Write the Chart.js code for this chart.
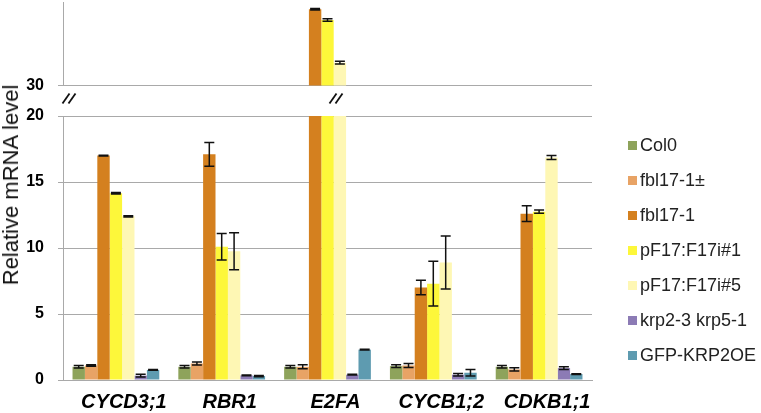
<!DOCTYPE html>
<html>
<head>
<meta charset="utf-8">
<script src="https://cdn.jsdelivr.net/npm/chart.js@4.4.1/dist/chart.umd.min.js"></script>
<style>
  body { margin: 0; background: #fff; overflow: hidden; }
  #wrap { position: relative; width: 761px; height: 413px; overflow: hidden; font-family: "Liberation Sans", Arial, sans-serif; }
  canvas { position: absolute; left: 0; }
  #bottom { top: 0; }
  #top { top: -21px; }
  #ytitle { position: absolute; left: 11px; top: 185px; transform: translate(-50%, -50%) rotate(-90deg);
            font-size: 22px; line-height: 22px; white-space: nowrap; color: #111; }
  #legend { position: absolute; left: 628px; top: 133px; }
  .item { height: 35px; display: flex; align-items: flex-start; font-size: 18px; line-height: 24px; color: #222; }
  .box { width: 9px; height: 9px; margin: 8px 3px 0 0; }
</style>
</head>
<body>
<div id="wrap">
  <canvas id="bottom" width="761" height="413"></canvas>
  <canvas id="top" width="761" height="130"></canvas>
  <div id="ytitle">Relative mRNA level</div>
  <div id="legend"></div>
</div>
<script>
const genes = ["CYCD3;1", "RBR1", "E2FA", "CYCB1;2", "CDKB1;1"];
const seriesNames = ["Col0", "fbl17-1\u00b1", "fbl17-1", "pF17:F17i#1", "pF17:F17i#5", "krp2-3 krp5-1", "GFP-KRP2OE"];
const colors = ["#8ea35b", "#e8a365", "#d4801f", "#fdf73a", "#fef7b4", "#8c7bb5", "#5e9bb0"];

const col0      = [1.0, 1.0, 1.0, 1.05, 1.0];
const col0Err   = [0.1, 0.1, 0.1, 0.1, 0.1];
const fblHet    = [1.1, 1.25, 1.0, 1.1, 0.8];
const fblHetErr = [0.05, 0.12, 0.15, 0.15, 0.12];
const fbl       = [17.0, 17.1, 35.7, 7.0, 12.6];
const fblErr    = [0.03, 0.9, 0.05, 0.55, 0.6];
const f17i1     = [14.15, 10.1, 34.9, 7.3, 12.75];
const f17i1Err  = [0.05, 1.0, 0.1, 1.7, 0.12];
const f17i5     = [12.4, 9.75, 31.7, 8.9, 16.85];
const f17i5Err  = [0.05, 1.4, 0.1, 2.0, 0.15];
const krp       = [0.33, 0.35, 0.4, 0.4, 0.9];
const krpErr    = [0.1, 0.03, 0.03, 0.1, 0.1];
const gfp       = [0.76, 0.3, 2.3, 0.55, 0.45];
const gfpErr    = [0.03, 0.05, 0.03, 0.25, 0.03];

const lowTicks = [0, 5, 10, 15, 20];
const highTicks = [30];

const values = [col0, fblHet, fbl, f17i1, f17i5, krp, gfp];
const errors = [col0Err, fblHetErr, fblErr, f17i1Err, f17i5Err, krpErr, gfpErr];

const font = "'Liberation Sans', Arial, sans-serif";
const gridColor = "#a9a9a9";

function makeDatasets() {
  return values.map((v, i) => ({
    label: seriesNames[i],
    data: v,
    errors: errors[i],
    backgroundColor: colors[i],
    borderWidth: 0,
    categoryPercentage: 0.82,
    barPercentage: 1.0
  }));
}

// error bars, drawn only where the value sits inside the panel's range
const errorBars = {
  id: "errorBars",
  afterDatasetsDraw(chart) {
    const c = chart.ctx, a = chart.chartArea, y = chart.scales.y;
    c.save();
    c.beginPath();
    c.rect(a.left, a.top - 2, a.right - a.left, a.bottom - a.top + 2);
    c.clip();
    c.strokeStyle = "#111";
    c.lineWidth = 1.5;
    chart.data.datasets.forEach((ds, i) => {
      chart.getDatasetMeta(i).data.forEach((bar, j) => {
        const v = ds.data[j], e = ds.errors[j];
        if (v < y.min || v > y.max) return;
        const t = y.getPixelForValue(v + e), b = y.getPixelForValue(v - e);
        c.beginPath();
        c.moveTo(bar.x, t); c.lineTo(bar.x, b);
        c.moveTo(bar.x - 5, t); c.lineTo(bar.x + 5, t);
        c.moveTo(bar.x - 5, b); c.lineTo(bar.x + 5, b);
        c.stroke();
      });
    });
    c.restore();
  }
};

// the "//" axis break marks
const breakMarks = {
  id: "breakMarks",
  afterDraw(chart) {
    const c = chart.ctx;
    c.save();
    c.strokeStyle = "#111";
    c.lineWidth = 1.8;
    [69, 336].forEach(x => {
      [-3, 3].forEach(dx => {
        c.beginPath();
        c.moveTo(x + dx - 3.5, 103.5);
        c.lineTo(x + dx + 3.5, 93.5);
        c.stroke();
      });
    });
    c.restore();
  }
};

new Chart(document.getElementById("bottom"), {
  type: "bar",
  data: { labels: genes, datasets: makeDatasets() },
  options: {
    responsive: false,
    animation: false,
    layout: { padding: { top: 116, right: 169, bottom: 0, left: 0 } },
    plugins: { legend: { display: false }, tooltip: { enabled: false } },
    scales: {
      x: {
        afterFit: s => { s.height = 33; },
        grid: { display: false, drawTicks: false },
        border: { color: gridColor },
        ticks: { padding: 10, labelOffset: 8, color: "#000", font: { family: font, size: 20, weight: "bold", style: "italic" } }
      },
      y: {
        min: 0, max: 20,
        afterFit: s => { s.width = 63; },
        afterBuildTicks: s => { s.ticks = lowTicks.map(v => ({ value: v })); },
        grid: { color: gridColor, tickLength: 5 },
        border: { color: gridColor },
        ticks: { padding: 14, color: "#000", font: { family: font, size: 16, weight: "bold" } }
      }
    }
  },
  plugins: [errorBars, breakMarks]
});

new Chart(document.getElementById("top"), {
  type: "bar",
  data: { labels: genes, datasets: makeDatasets() },
  options: {
    responsive: false,
    animation: false,
    layout: { padding: { top: 0, right: 169, bottom: 0, left: 0 } },
    plugins: { legend: { display: false }, tooltip: { enabled: false } },
    scales: {
      x: { display: false },
      y: {
        min: 30, max: 36.2,
        afterFit: s => { s.width = 63; },
        afterBuildTicks: s => { s.ticks = highTicks.map(v => ({ value: v })); },
        grid: { color: gridColor, tickLength: 5 },
        border: { color: gridColor },
        ticks: { padding: 14, color: "#000", font: { family: font, size: 16, weight: "bold" } }
      }
    }
  },
  plugins: [errorBars]
});

const legend = document.getElementById("legend");
seriesNames.forEach((name, i) => {
  const item = document.createElement("div");
  item.className = "item";
  const box = document.createElement("div");
  box.className = "box";
  box.style.background = colors[i];
  const txt = document.createElement("span");
  txt.textContent = name;
  item.appendChild(box);
  item.appendChild(txt);
  legend.appendChild(item);
});
</script>
</body>
</html>
